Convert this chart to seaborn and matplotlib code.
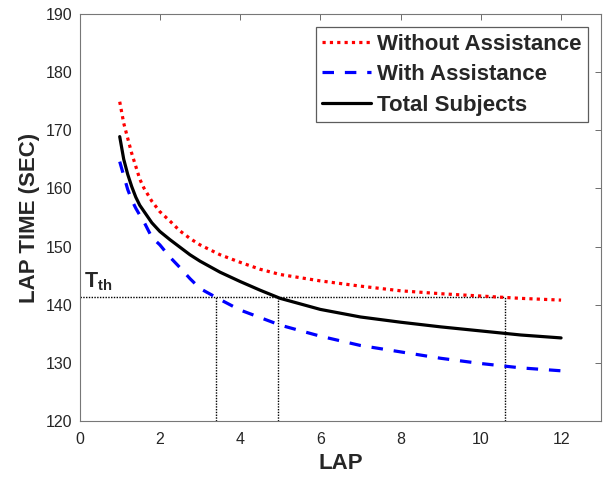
import numpy as np
import pandas as pd
import matplotlib
matplotlib.use("Agg")
import matplotlib.pyplot as plt
import seaborn as sns

# ---- data ----
laps = [1.0, 1.1, 1.2, 1.3, 1.4, 1.5, 1.6, 1.8, 2.0, 2.25, 2.5, 2.75, 3.0,
        3.5, 4.0, 4.5, 5.0, 6, 7, 8, 9, 10, 11, 12]
without_assist = [174.9, 171.2, 168.6, 166.0, 163.8, 161.6, 160.1, 157.8, 156.0,
                  154.4, 152.7, 151.4, 150.3, 148.6, 147.3, 146.1, 145.2,
                  144.1, 143.2, 142.4, 141.9, 141.5, 141.1, 140.8]
with_assist = [164.6, 162.2, 159.8, 158.0, 156.6, 155.4, 154.3, 151.6, 150.3,
               148.2, 146.4, 144.5, 142.8, 140.9, 139.1, 137.8, 136.5,
               134.6, 133.0, 131.9, 130.8, 129.9, 129.15, 128.65]
total_subjects = [168.9, 165.0, 162.4, 160.3, 158.5, 157.1, 156.1, 154.1, 152.6,
                  151.2, 149.9, 148.6, 147.5, 145.6, 144.0, 142.5, 141.1,
                  139.2, 137.9, 137.0, 136.2, 135.5, 134.8, 134.3]
series_names = ["Without Assistance", "With Assistance", "Total Subjects"]
t_threshold = 141.3
crossing_laps = [3.41, 4.95, 10.61]
x_ticks = [0, 2, 4, 6, 8, 10, 12]
y_ticks = [120, 130, 140, 150, 160, 170, 180, 190]

sns.set_theme(style="white")
plt.rcParams["font.family"] = ["Liberation Sans", "DejaVu Sans"]
plt.rcParams["mathtext.fontset"] = "custom"
plt.rcParams["mathtext.rm"] = "Liberation Sans"
plt.rcParams["mathtext.bf"] = "Liberation Sans:bold"

df = pd.DataFrame({
    "lap": laps * 3,
    "time": without_assist + with_assist + total_subjects,
    "group": [series_names[0]] * len(laps) + [series_names[1]] * len(laps)
             + [series_names[2]] * len(laps),
})

fig = plt.figure(figsize=(6.03, 4.78), dpi=100)
ax = fig.add_axes([0.132, 0.119, 0.865, 0.852])

palette = {series_names[0]: "#ff0000", series_names[1]: "#0000ff", series_names[2]: "#000000"}
dashes = {series_names[0]: (1, 1.3), series_names[1]: (3.6, 3.4), series_names[2]: ""}
sns.lineplot(data=df, x="lap", y="time", hue="group", style="group",
             hue_order=series_names, style_order=series_names,
             palette=palette, dashes=dashes, linewidth=2.3, ax=ax, legend=True)

# threshold lines
ax.plot([0, crossing_laps[-1]], [t_threshold, t_threshold], color="black",
        linestyle=(0, (1, 1)), linewidth=1.0, zorder=1)
for xc in crossing_laps:
    ax.plot([xc, xc], [120, t_threshold], color="black",
            linestyle=(0, (1, 1)), linewidth=1.0, zorder=1)
ax.text(0.12, 142.0, r"$\mathbf{T}_{\mathbf{th}}$", fontsize=15.5, ha="left", va="bottom")

ax.set_xlim(0, 13)
ax.set_ylim(120, 190)
ax.set_xticks(x_ticks)
ax.set_yticks(y_ticks)
ax.tick_params(axis="both", direction="in", length=4, width=0.6, colors="#555555",
               labelcolor="#262626", labelsize=11.5, top=True, right=True)
ax.tick_params(axis="x", pad=7.5)
ax.tick_params(axis="y", pad=5)
for s in ax.spines.values():
    s.set_color("#777777")
    s.set_linewidth(0.8)

ax.set_xlabel("LAP", fontsize=16, fontweight="bold", color="#262626", labelpad=5)
ax.set_ylabel("LAP TIME (SEC)", fontsize=16, fontweight="bold", color="#262626", labelpad=4)

leg = ax.legend(loc="upper right", fontsize=16, frameon=True, fancybox=False,
                handlelength=2.2, handletextpad=0.25, borderpad=0.3,
                labelspacing=0.42, borderaxespad=0.6)
leg.get_frame().set_edgecolor("#333333")
leg.get_frame().set_linewidth(0.9)
for t in leg.get_texts():
    t.set_fontweight("bold")

fig.savefig("out.png", dpi=100)
